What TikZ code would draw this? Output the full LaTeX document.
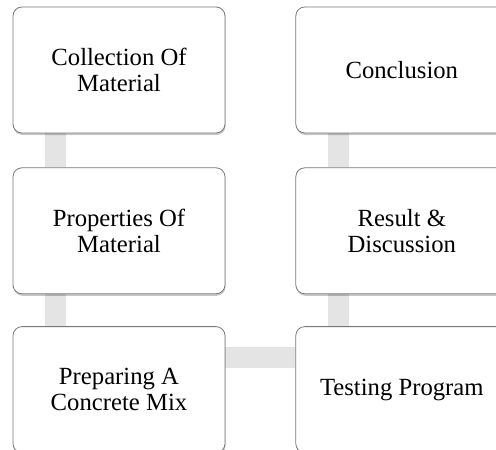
\documentclass[tikz,border=0pt]{standalone}
\usepackage{fontspec}
\setmainfont{Liberation Serif}
\usepackage{tikz}
\usetikzlibrary{
  positioning,
  backgrounds,
  shadows
}
\definecolor{boxedge}{RGB}{120,120,120}
\definecolor{linkgray}{RGB}{228,228,228}

\begin{document}
\begin{tikzpicture}[x=1pt, y=1pt,
  stage/.style={draw=boxedge, line width=0.8pt, fill=white, rounded corners=9pt,
    minimum width=212pt, minimum height=126pt, align=center, inner sep=0pt,
    font=\fontsize{24.7}{26}\selectfont,
    drop shadow={shadow xshift=0.6pt, shadow yshift=-2pt, fill=black, opacity=0.22}},
  link/.style={draw=linkgray, line width=21pt}]
  \useasboundingbox (0,0) rectangle (496,-450);
  % Steps, left column top to bottom, then right column bottom to top
  \node[stage] (coll) at (119,-70) {Collection Of\\Material};
  \node[stage, below=34pt of coll] (prop) {Properties Of\\Material};
  \node[stage, below=32pt of prop] (mix) {Preparing A\\Concrete Mix};
  \node[stage, right=70pt of mix] (test) {Testing Program};
  \node[stage, above=32pt of test] (res) {Result \&\\Discussion};
  \node[stage, above=34pt of res] (concl) {Conclusion};
  % Connectors sit behind the boxes
  \path (coll.south west) ++(43,0) coordinate (c1);
  \path (prop.north west) ++(43,0) coordinate (p1);
  \path (prop.south west) ++(43,0) coordinate (p2);
  \path (mix.north west) ++(43,0) coordinate (m1);
  \path (mix.east) ++(0,32) coordinate (m2);
  \path (test.west) ++(0,32) coordinate (t1);
  \path (test.north west) ++(43,0) coordinate (t2);
  \path (res.south west) ++(43,0) coordinate (r1);
  \path (res.north west) ++(43,0) coordinate (r2);
  \path (concl.south west) ++(43,0) coordinate (k1);
  \begin{pgfonlayer}{background}
    \draw[link] (c1) -- (p1);
    \draw[link] (p2) -- (m1);
    \draw[link] (m2) -- (t1);
    \draw[link] (t2) -- (r1);
    \draw[link] (r2) -- (k1);
  \end{pgfonlayer}
\end{tikzpicture}
\end{document}
